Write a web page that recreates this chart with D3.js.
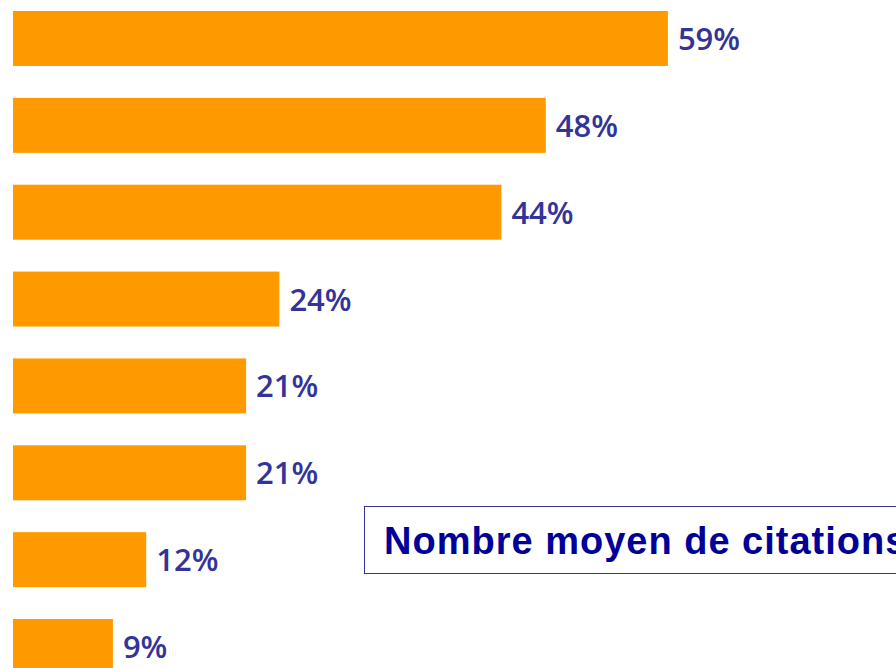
<!DOCTYPE html>
<html>
<head>
  <script src="https://d3js.org/d3.v7.min.js"></script>
  <style>
    body { margin: 0; background: #fff; }
    svg { display: block; }
    .bar { fill: #ff9900; }
    .lbl { fill: #333399; font-family: "Open Sans", sans-serif; font-weight: 600; font-size: 31px; }
    .boxtxt { fill: #000099; font-family: "Liberation Sans", Arial, sans-serif; font-weight: bold; font-size: 38px; letter-spacing: 1px; }
  </style>
</head>
<body>
  <svg width="896" height="668"></svg>
  <script>
    // values, top to bottom
    var items = ["a", "b", "c", "d", "e", "f", "g", "h"];
    var values = [59, 48, 44, 24, 21, 21, 12, 9];
    var boxText = "Nombre moyen de citations";

    var svg = d3.select("svg");

    var x = d3.scaleLinear().domain([0, 100]).range([13, 13 + 1110]);
    var y = d3.scaleBand().domain(items).range([11, 674]).paddingInner(0.367);

    svg.selectAll(".bar")
      .data(values)
      .enter().append("rect")
      .attr("class", "bar")
      .attr("x", x(0))
      .attr("y", function(d, i) { return y(items[i]); })
      .attr("width", function(d) { return x(d) - x(0); })
      .attr("height", y.bandwidth());

    svg.selectAll(".lbl")
      .data(values)
      .enter().append("text")
      .attr("class", "lbl")
      .attr("x", function(d) { return x(d) + 10; })
      .attr("y", function(d, i) { return y(items[i]) + y.bandwidth() / 2 + 11.5; })
      .text(function(d) { return d + "%"; });

    // the boxed note, cut by the right edge
    svg.append("rect")
      .attr("x", 364.5).attr("y", 506.5)
      .attr("width", 600).attr("height", 67)
      .attr("fill", "#fff")
      .attr("stroke", "#333399").attr("stroke-width", 1);

    svg.append("text")
      .attr("class", "boxtxt")
      .attr("x", 384).attr("y", 554)
      .text(boxText);
  </script>
</body>
</html>
